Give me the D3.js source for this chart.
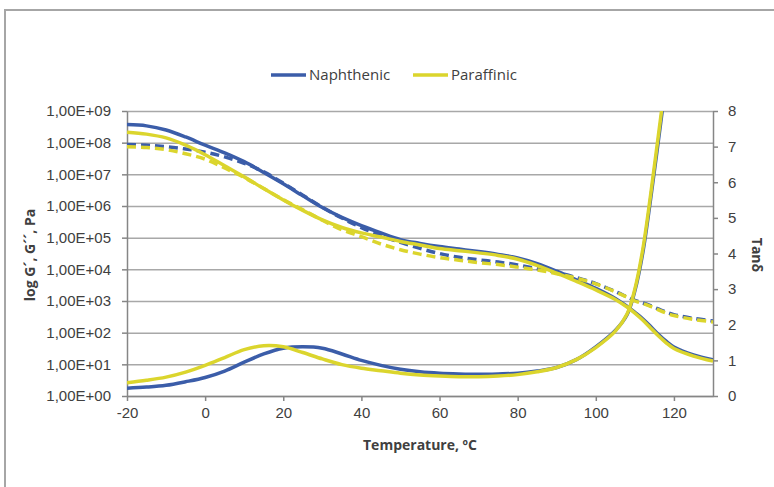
<!DOCTYPE html>
<html>
<head>
<meta charset="utf-8">
<script src="https://cdn.jsdelivr.net/npm/d3@7"></script>
<style>
  body { margin: 0; background: #fff; }
  svg { display: block; font-family: "Open Sans", sans-serif; }
  .tick text { fill: #404040; font-size: 15px; }
  .axis-title { fill: #404040; font-size: 14px; font-weight: bold; }
  .legend text { fill: #404040; font-size: 15px; }
</style>
</head>
<body>
<div id="wrapper"></div>
<script>
// DATA (G', G'' as log10 of Pa, tan delta as plain value)
const TEMPERATURES = [-20, -15, -10, -5, 0, 5, 10, 15, 20, 25, 30, 35, 40, 45, 50, 55, 60, 65, 70, 75, 80, 85, 90, 95, 100, 105, 108, 110, 112, 114, 116, 118, 120, 125, 130];

const NAPHTHENIC_G1 = [8.57, 8.53, 8.40, 8.18, 7.92, 7.68, 7.40, 7.06, 6.70, 6.32, 5.95, 5.64, 5.38, 5.15, 4.94, 4.82, 4.72, 4.64, 4.56, 4.47, 4.36, 4.18, 3.94, 3.67, 3.40, 3.08, 2.83, 2.64, 2.44, 2.20, 1.95, 1.73, 1.55, 1.30, 1.14];
const NAPHTHENIC_G2 = [7.94, 7.92, 7.87, 7.80, 7.70, 7.55, 7.35, 7.08, 6.72, 6.34, 5.96, 5.62, 5.32, 5.06, 4.85, 4.66, 4.50, 4.38, 4.30, 4.23, 4.14, 4.02, 3.90, 3.74, 3.55, 3.30, 3.13, 3.02, 2.94, 2.85, 2.75, 2.65, 2.57, 2.45, 2.37];
const NAPHTHENIC_TAN = [0.22, 0.25, 0.30, 0.40, 0.52, 0.70, 0.95, 1.18, 1.34, 1.38, 1.34, 1.18, 1.00, 0.86, 0.75, 0.68, 0.64, 0.62, 0.61, 0.62, 0.64, 0.70, 0.80, 1.02, 1.38, 1.84, 2.28, 2.95, 4.00, 5.50, 7.15, 8.85, null, null, null];

const PARAFFINIC_G1 = [8.33, 8.27, 8.15, 7.92, 7.62, 7.27, 6.92, 6.55, 6.19, 5.86, 5.56, 5.32, 5.15, 5.02, 4.88, 4.77, 4.66, 4.59, 4.52, 4.44, 4.32, 4.12, 3.88, 3.62, 3.35, 3.05, 2.81, 2.62, 2.40, 2.15, 1.90, 1.68, 1.50, 1.26, 1.10];
const PARAFFINIC_G2 = [7.87, 7.85, 7.78, 7.65, 7.48, 7.20, 6.90, 6.55, 6.20, 5.88, 5.55, 5.25, 5.03, 4.80, 4.62, 4.48, 4.37, 4.29, 4.21, 4.15, 4.07, 3.98, 3.86, 3.72, 3.54, 3.29, 3.12, 3.00, 2.92, 2.83, 2.72, 2.62, 2.54, 2.42, 2.34];
const PARAFFINIC_TAN = [0.37, 0.44, 0.53, 0.67, 0.86, 1.08, 1.30, 1.41, 1.38, 1.22, 1.04, 0.88, 0.78, 0.71, 0.64, 0.59, 0.56, 0.54, 0.54, 0.56, 0.60, 0.68, 0.80, 1.02, 1.36, 1.82, 2.30, 3.00, 4.10, 5.62, 7.30, 9.00, null, null, null];

const X_TICKS = [-20, 0, 20, 40, 60, 80, 100, 120];
const LEFT_TICKS = [1e0, 1e1, 1e2, 1e3, 1e4, 1e5, 1e6, 1e7, 1e8, 1e9];
const RIGHT_TICKS = [0, 1, 2, 3, 4, 5, 6, 7, 8];

// CONSTANTS
const BLUE = `#3b5da9`;
const YELLOW = `#dbd52d`;
const AXIS_COLOR = `#868686`;
const GRID_COLOR = `#a8a8a8`;

const SVG_WIDTH = 774;
const SVG_HEIGHT = 487;
const margin = { top: 111, right: 61, bottom: 91, left: 127 };
const width = SVG_WIDTH - margin.left - margin.right;
const height = SVG_HEIGHT - margin.top - margin.bottom;

const svg = d3.select(`#wrapper`)
  .append(`svg`)
  .attr(`width`, SVG_WIDTH)
  .attr(`height`, SVG_HEIGHT);

// outer frame, only top and left edges are inside the picture
svg.append(`path`)
  .attr(`d`, `M5,${SVG_HEIGHT}V10H${SVG_WIDTH}`)
  .attr(`fill`, `none`)
  .attr(`stroke`, `#a6a6a6`)
  .attr(`stroke-width`, 2);

const chart = svg.append(`g`)
  .attr(`transform`, `translate(${margin.left}, ${margin.top})`);

// SCALES
const xScale = d3.scaleLinear()
  .domain([-20, 130])
  .range([0, width]);

const yScale = d3.scaleLog()
  .domain([1, 1e9])
  .range([height, 0]);

const tanScale = d3.scaleLinear()
  .domain([0, 8])
  .range([height, 0]);

// GRID
chart.append(`g`)
  .attr(`class`, `grid`)
  .call(d3.axisLeft(yScale).tickValues(LEFT_TICKS).tickSize(-width).tickFormat(``))
  .call(g => g.select(`.domain`).remove())
  .call(g => g.selectAll(`.tick line`).attr(`stroke`, GRID_COLOR).attr(`stroke-width`, 1.5));

// AXIS
const formatExp = d => `1,00E+${String(Math.round(Math.log10(d))).padStart(2, `0`)}`;

const styleAxis = g => {
  g.select(`.domain`).attr(`stroke`, AXIS_COLOR).attr(`stroke-width`, 1.5);
  g.selectAll(`.tick line`).attr(`stroke`, AXIS_COLOR).attr(`stroke-width`, 1.5);
};

chart.append(`g`)
  .attr(`transform`, `translate(0, ${height})`)
  .call(d3.axisBottom(xScale).tickValues(X_TICKS).tickFormat(d => `${d}`).tickSize(5).tickSizeOuter(0).tickPadding(6))
  .call(styleAxis);

chart.append(`g`)
  .call(d3.axisLeft(yScale).tickValues(LEFT_TICKS).tickFormat(formatExp).tickSize(5).tickSizeOuter(0).tickPadding(11))
  .call(styleAxis);

chart.append(`g`)
  .attr(`transform`, `translate(${width}, 0)`)
  .call(d3.axisRight(tanScale).tickValues(RIGHT_TICKS).tickSize(5).tickSizeOuter(0).tickPadding(10))
  .call(styleAxis);

// LINES
chart.append(`clipPath`)
  .attr(`id`, `plot-clip`)
  .append(`rect`)
  .attr(`width`, width)
  .attr(`height`, height);

const series = [
  { values: NAPHTHENIC_G1, color: BLUE, dashed: false, y: v => yScale(10 ** v) },
  { values: NAPHTHENIC_G2, color: BLUE, dashed: true, y: v => yScale(10 ** v) },
  { values: NAPHTHENIC_TAN, color: BLUE, dashed: false, y: v => tanScale(v) },
  { values: PARAFFINIC_G1, color: YELLOW, dashed: false, y: v => yScale(10 ** v) },
  { values: PARAFFINIC_G2, color: YELLOW, dashed: true, y: v => yScale(10 ** v) },
  { values: PARAFFINIC_TAN, color: YELLOW, dashed: false, y: v => tanScale(v) }
];

const lines = chart.append(`g`).attr(`clip-path`, `url(#plot-clip)`);

series.forEach(s => {
  const line = d3.line()
    .defined(d => d[1] !== null)
    .x(d => xScale(d[0]))
    .y(d => s.y(d[1]))
    .curve(d3.curveCatmullRom.alpha(0.5));

  lines.append(`path`)
    .datum(d3.zip(TEMPERATURES, s.values))
    .attr(`fill`, `none`)
    .attr(`stroke`, s.color)
    .attr(`stroke-width`, 3.5)
    .attr(`stroke-dasharray`, s.dashed ? `9,5` : null)
    .attr(`d`, line);
});

// TITLES
svg.append(`text`)
  .attr(`class`, `axis-title`)
  .attr(`x`, 420)
  .attr(`y`, 445)
  .attr(`dy`, `0.35em`)
  .attr(`text-anchor`, `middle`)
  .text(`Temperature, ºC`);

svg.append(`text`)
  .attr(`class`, `axis-title`)
  .attr(`transform`, `translate(30, 255) rotate(-90)`)
  .attr(`dy`, `0.35em`)
  .attr(`text-anchor`, `middle`)
  .text(`log G´, G´´, Pa`);

svg.append(`text`)
  .attr(`class`, `axis-title`)
  .attr(`transform`, `translate(757, 255) rotate(90)`)
  .attr(`dy`, `0.35em`)
  .attr(`text-anchor`, `middle`)
  .text(`Tanδ`);

// LEGEND
const legendItems = [
  { label: `Naphthenic`, color: BLUE, x: 271 },
  { label: `Paraffinic`, color: YELLOW, x: 413 }
];

const legend = svg.append(`g`)
  .attr(`class`, `legend`)
  .attr(`transform`, `translate(0, 75)`);

legendItems.forEach(it => {
  legend.append(`line`)
    .attr(`x1`, it.x)
    .attr(`x2`, it.x + 35)
    .attr(`stroke`, it.color)
    .attr(`stroke-width`, 3.5);

  legend.append(`text`)
    .attr(`x`, it.x + 38)
    .attr(`dy`, `0.35em`)
    .text(it.label);
});
</script>
</body>
</html>
